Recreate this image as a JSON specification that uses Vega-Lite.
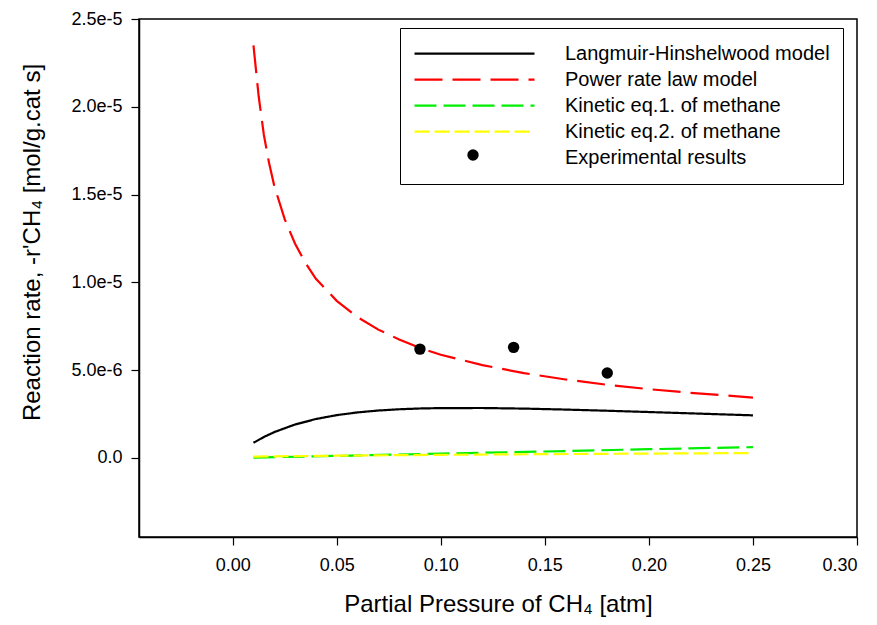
{
  "$schema": "https://vega.github.io/schema/vega-lite/v6.json",
  "width": 718,
  "height": 518,
  "autosize": {"type": "none"},
  "padding": {"left": 139, "top": 19, "right": 20, "bottom": 88},
  "background": "white",
  "config": {
    "font": "Liberation Sans",
    "view": {"stroke": "#000", "strokeWidth": 1.5},
    "axis": {
      "grid": false,
      "domainColor": "#000",
      "domainWidth": 1.5,
      "tickColor": "#000",
      "tickWidth": 1.2,
      "tickSize": 8,
      "labelColor": "#000",
      "titleColor": "#000",
      "labelFont": "Liberation Sans",
      "titleFont": "Liberation Sans",
      "titleFontWeight": "normal",
      "labelFontSize": 18,
      "titleFontSize": 24
    }
  },
  "datasets": {
    "curves": [
      {"P": 0.01, "r": 0.864e-6, "series": "Langmuir-Hinshelwood model"},
      {"P": 0.015, "r": 1.195e-6, "series": "Langmuir-Hinshelwood model"},
      {"P": 0.02, "r": 1.474e-6, "series": "Langmuir-Hinshelwood model"},
      {"P": 0.03, "r": 1.908e-6, "series": "Langmuir-Hinshelwood model"},
      {"P": 0.04, "r": 2.219e-6, "series": "Langmuir-Hinshelwood model"},
      {"P": 0.05, "r": 2.44e-6, "series": "Langmuir-Hinshelwood model"},
      {"P": 0.06, "r": 2.596e-6, "series": "Langmuir-Hinshelwood model"},
      {"P": 0.07, "r": 2.703e-6, "series": "Langmuir-Hinshelwood model"},
      {"P": 0.08, "r": 2.774e-6, "series": "Langmuir-Hinshelwood model"},
      {"P": 0.09, "r": 2.819e-6, "series": "Langmuir-Hinshelwood model"},
      {"P": 0.10, "r": 2.842e-6, "series": "Langmuir-Hinshelwood model"},
      {"P": 0.12, "r": 2.846e-6, "series": "Langmuir-Hinshelwood model"},
      {"P": 0.14, "r": 2.812e-6, "series": "Langmuir-Hinshelwood model"},
      {"P": 0.16, "r": 2.757e-6, "series": "Langmuir-Hinshelwood model"},
      {"P": 0.18, "r": 2.69e-6, "series": "Langmuir-Hinshelwood model"},
      {"P": 0.20, "r": 2.617e-6, "series": "Langmuir-Hinshelwood model"},
      {"P": 0.22, "r": 2.542e-6, "series": "Langmuir-Hinshelwood model"},
      {"P": 0.25, "r": 2.428e-6, "series": "Langmuir-Hinshelwood model"},

      {"P": 0.01, "r": 2.35e-5, "series": "Power rate law model"},
      {"P": 0.0125, "r": 2.06e-5, "series": "Power rate law model"},
      {"P": 0.015, "r": 1.84e-5, "series": "Power rate law model"},
      {"P": 0.0175, "r": 1.68e-5, "series": "Power rate law model"},
      {"P": 0.02, "r": 1.55e-5, "series": "Power rate law model"},
      {"P": 0.025, "r": 1.36e-5, "series": "Power rate law model"},
      {"P": 0.03, "r": 1.22e-5, "series": "Power rate law model"},
      {"P": 0.035, "r": 1.11e-5, "series": "Power rate law model"},
      {"P": 0.04, "r": 1.02e-5, "series": "Power rate law model"},
      {"P": 0.05, "r": 8.95e-6, "series": "Power rate law model"},
      {"P": 0.06, "r": 8.02e-6, "series": "Power rate law model"},
      {"P": 0.07, "r": 7.31e-6, "series": "Power rate law model"},
      {"P": 0.08, "r": 6.75e-6, "series": "Power rate law model"},
      {"P": 0.09, "r": 6.27e-6, "series": "Power rate law model"},
      {"P": 0.10, "r": 5.88e-6, "series": "Power rate law model"},
      {"P": 0.12, "r": 5.29e-6, "series": "Power rate law model"},
      {"P": 0.14, "r": 4.83e-6, "series": "Power rate law model"},
      {"P": 0.16, "r": 4.47e-6, "series": "Power rate law model"},
      {"P": 0.18, "r": 4.17e-6, "series": "Power rate law model"},
      {"P": 0.20, "r": 3.92e-6, "series": "Power rate law model"},
      {"P": 0.22, "r": 3.71e-6, "series": "Power rate law model"},
      {"P": 0.25, "r": 3.44e-6, "series": "Power rate law model"},

      {"P": 0.01, "r": 0.02e-6, "series": "Kinetic eq.1. of methane"},
      {"P": 0.05, "r": 0.12e-6, "series": "Kinetic eq.1. of methane"},
      {"P": 0.10, "r": 0.25e-6, "series": "Kinetic eq.1. of methane"},
      {"P": 0.15, "r": 0.37e-6, "series": "Kinetic eq.1. of methane"},
      {"P": 0.20, "r": 0.50e-6, "series": "Kinetic eq.1. of methane"},
      {"P": 0.25, "r": 0.62e-6, "series": "Kinetic eq.1. of methane"},

      {"P": 0.01, "r": 0.08e-6, "series": "Kinetic eq.2. of methane"},
      {"P": 0.05, "r": 0.13e-6, "series": "Kinetic eq.2. of methane"},
      {"P": 0.10, "r": 0.18e-6, "series": "Kinetic eq.2. of methane"},
      {"P": 0.15, "r": 0.22e-6, "series": "Kinetic eq.2. of methane"},
      {"P": 0.20, "r": 0.25e-6, "series": "Kinetic eq.2. of methane"},
      {"P": 0.25, "r": 0.28e-6, "series": "Kinetic eq.2. of methane"}
    ],
    "experiments": [
      {"P": 0.09, "r": 6.2e-6, "kind": "Experimental results"},
      {"P": 0.135, "r": 6.3e-6, "kind": "Experimental results"},
      {"P": 0.18, "r": 4.84e-6, "kind": "Experimental results"}
    ]
  },
  "layer": [
    {
      "data": {"name": "curves"},
      "mark": {"type": "line", "strokeWidth": 2.2, "clip": true},
      "encoding": {
        "x": {
          "field": "P", "type": "quantitative",
          "scale": {"domain": [-0.045, 0.30], "nice": false, "zero": false},
          "axis": {
            "values": [0, 0.05, 0.1, 0.15, 0.2, 0.25, 0.3],
            "format": ".2f",
            "labelPadding": 11,
            "title": "Partial Pressure of CH₄ [atm]",
            "titlePadding": 18
          }
        },
        "y": {
          "field": "r", "type": "quantitative",
          "scale": {"domain": [-4.5e-6, 2.5e-5], "nice": false, "zero": false},
          "axis": {
            "values": [0, 5e-6, 1e-5, 1.5e-5, 2e-5, 2.5e-5],
            "labelExpr": "datum.value == 0 ? '0.0' : format(datum.value, '.1e')",
            "labelPadding": 9,
            "title": "Reaction rate, -r'CH₄ [mol/g.cat s]",
            "titlePadding": 26,
            "titleY": 223
          }
        },
        "color": {
          "field": "series", "type": "nominal",
          "scale": {
            "domain": ["Langmuir-Hinshelwood model", "Power rate law model", "Kinetic eq.1. of methane", "Kinetic eq.2. of methane", "Experimental results"],
            "range": ["#000000", "#ff0000", "#00ee00", "#ffff00", "transparent"]
          },
          "legend": {
            "orient": "none",
            "legendX": 261,
            "legendY": 9,
            "title": null,
            "strokeColor": "#000",
            "fillColor": "white",
            "padding": 13,
            "symbolType": "stroke",
            "symbolSize": 14400,
            "symbolStrokeWidth": 2.2,
            "clipHeight": 25.2,
            "rowPadding": 0,
            "labelOffset": 29,
            "labelFontSize": 20,
            "labelColor": "#000",
            "labelFont": "Liberation Sans",
            "labelLimit": 400
          }
        },
        "strokeDash": {
          "field": "series", "type": "nominal",
          "scale": {
            "domain": ["Langmuir-Hinshelwood model", "Power rate law model", "Kinetic eq.1. of methane", "Kinetic eq.2. of methane", "Experimental results"],
            "range": [[1, 0], [28, 10], [22, 7], [15, 5], [0, 1000]]
          },
          "legend": {
            "orient": "none",
            "legendX": 261,
            "legendY": 9,
            "title": null,
            "strokeColor": "#000",
            "fillColor": "white",
            "padding": 13,
            "symbolType": "stroke",
            "symbolSize": 14400,
            "symbolStrokeWidth": 2.2,
            "clipHeight": 25.2,
            "rowPadding": 0,
            "labelOffset": 29,
            "labelFontSize": 20,
            "labelColor": "#000",
            "labelFont": "Liberation Sans",
            "labelLimit": 400
          }
        }
      }
    },
    {
      "data": {"name": "experiments"},
      "mark": {"type": "point", "filled": true, "color": "#000", "size": 130, "opacity": 1},
      "encoding": {
        "x": {"field": "P", "type": "quantitative"},
        "y": {"field": "r", "type": "quantitative"},
        "shape": {
          "field": "kind", "type": "nominal",
          "scale": {"domain": ["Experimental results"], "range": ["circle"]},
          "legend": {
            "orient": "none",
            "legendX": 328,
            "legendY": 130,
            "title": null,
            "padding": 0,
            "symbolSize": 130,
            "symbolFillColor": "#000",
            "symbolStrokeColor": "#000",
            "symbolStrokeWidth": 0,
            "symbolOpacity": 1,
            "labelFontSize": 12,
            "labelExpr": "''"
          }
        }
      }
    }
  ]
}
